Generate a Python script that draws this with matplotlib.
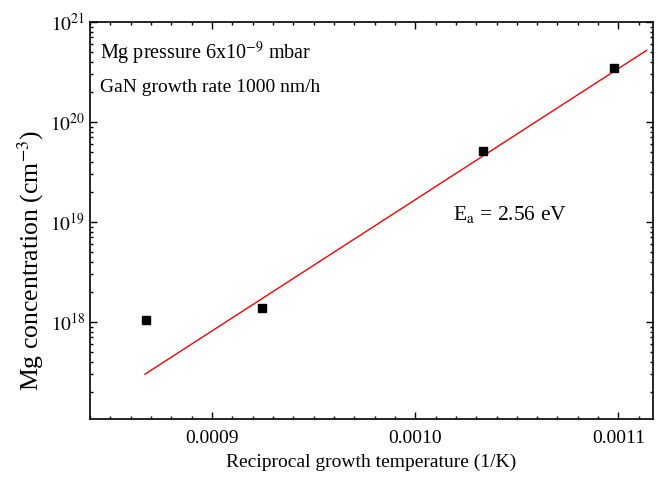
import numpy as np
import matplotlib.pyplot as plt
from matplotlib.ticker import MultipleLocator, LogLocator, NullFormatter

plt.rcParams['font.family'] = ['Liberation Serif', 'DejaVu Serif']
plt.rcParams['mathtext.fontset'] = 'stix'

# Datos medidos
inv_T = [0.0008676, 0.0009246, 0.0010332, 0.0010980]
mg_conc = [1.05e18, 1.38e18, 5.1e19, 3.5e20]

# Recta de ajuste (Arrhenius)
fit_x = [0.000867, 0.0011138]
fit_y = [3.0e17, 5.2e20]

x_ticks = [0.0009, 0.0010, 0.0011]
x_labels = ['0.0009', '0.0010', '0.0011']
y_ticks = [1e18, 1e19, 1e20, 1e21]
y_labels = [r'$10^{18}$', r'$10^{19}$', r'$10^{20}$', r'$10^{21}$']

fig = plt.figure(figsize=(6.58, 4.98), dpi=100)
ax = fig.add_axes([0.1368, 0.1586, 0.8556, 0.7972])

ax.plot(fit_x, fit_y, color='red', linewidth=1)
ax.plot(inv_T, mg_conc, linestyle='none', marker='s', markersize=5.5, color='black')

ax.set_yscale('log')
ax.set_xlim(0.00084, 0.001117)
ax.set_ylim(1.07e17, 1e21)

ax.set_xticks(x_ticks)
ax.set_xticklabels(x_labels)
ax.xaxis.set_minor_locator(MultipleLocator(0.00001))
ax.set_yticks(y_ticks)
ax.set_yticklabels(y_labels)
ax.yaxis.set_minor_locator(LogLocator(base=10, subs=np.arange(2, 10)))
ax.yaxis.set_minor_formatter(NullFormatter())

ax.tick_params(which='both', direction='in', top=True, right=True, labelsize=14)
ax.tick_params(which='major', length=5, width=1)
ax.tick_params(which='minor', length=2.5, width=1)
ax.tick_params(axis='x', pad=8)

ax.set_xlabel('Reciprocal growth temperature (1/K)', fontsize=14, labelpad=5)
ax.set_ylabel('Mg concentration (cm$^{-3}$)', fontsize=18.5)
ax.yaxis.set_label_coords(-0.078, 0.4)

ax.text(0.018, 0.92, 'Mg pressure 6x10$^{-9}$ mbar', transform=ax.transAxes, fontsize=14.5, va='center')
ax.text(0.018, 0.835, 'GaN growth rate 1000 nm/h', transform=ax.transAxes, fontsize=14, va='center')
ax.text(0.645, 0.515, r'E$_{\mathrm{a}}$ = 2.56 eV', transform=ax.transAxes, fontsize=15.5, va='center')

for s in ax.spines.values():
    s.set_linewidth(1.2)

plt.savefig('out.png', dpi=100)
